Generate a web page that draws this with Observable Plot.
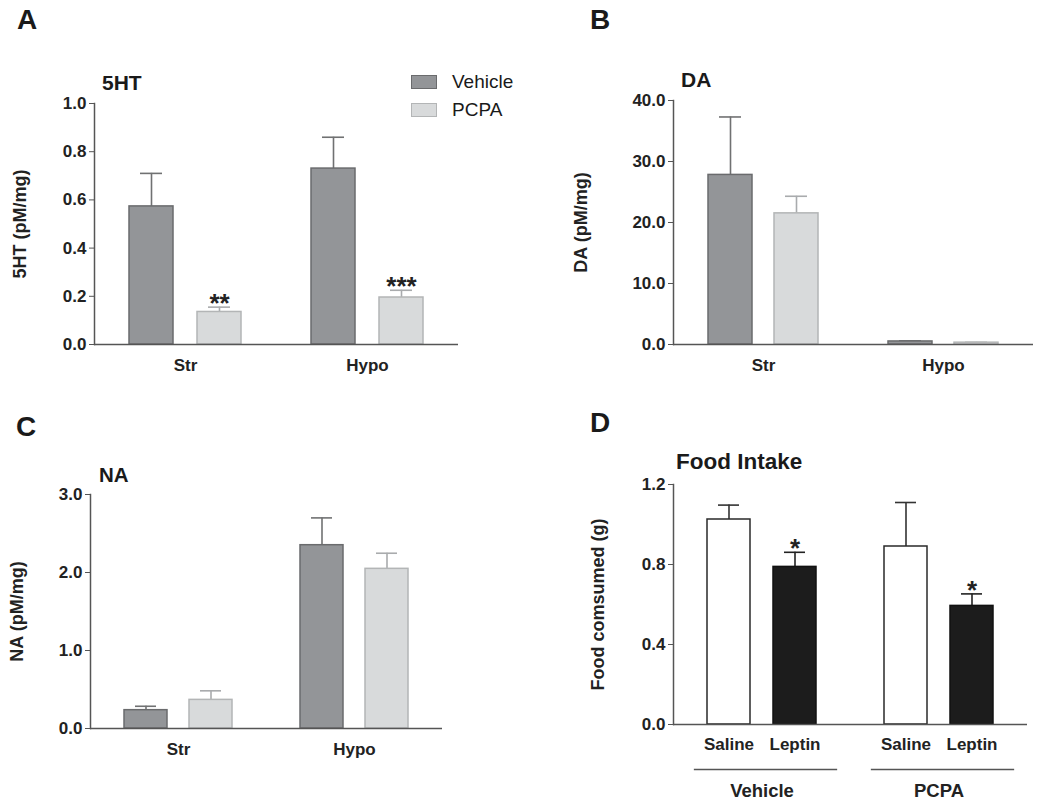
<!DOCTYPE html>
<html><head><meta charset="utf-8">
<script src="https://cdn.jsdelivr.net/npm/d3@7"></script>
<script src="https://cdn.jsdelivr.net/npm/@observablehq/plot@0.6"></script>
<style>
body{margin:0;background:#fff;}
#root{position:relative;width:1050px;height:806px;font-family:"Liberation Sans",Arial,sans-serif;overflow:hidden;background:#fff}
.abs{position:absolute;line-height:1;white-space:nowrap;color:#1a1a1a}
.letter{font-size:28px;font-weight:bold}
.title{font-weight:bold}
.panel{position:absolute}
.sw{position:absolute;box-sizing:border-box}
</style></head><body><div id="root"></div>
<script>
// ---- data ----
const regions = ["Str", "Hypo"];
const treatments = ["Vehicle", "PCPA"];

const ht5Vehicle = [0.573, 0.730];
const ht5VehicleSem = [0.137, 0.130];
const ht5PCPA = [0.135, 0.195];
const ht5PCPASem = [0.020, 0.030];
const ht5Stars = ["**", "***"];

const daVehicle = [27.8, 0.5];
const daVehicleSem = [9.5, 0.1];
const daPCPA = [21.5, 0.3];
const daPCPASem = [2.8, 0.05];

const naVehicle = [0.235, 2.35];
const naVehicleSem = [0.05, 0.35];
const naPCPA = [0.367, 2.047];
const naPCPASem = [0.116, 0.20];

const foodGroups = ["Vehicle", "PCPA"];
const foodTreatments = ["Saline", "Leptin"];
const foodSaline = [1.025, 0.890];
const foodSalineSem = [0.072, 0.220];
const foodLeptin = [0.788, 0.593];
const foodLeptinSem = [0.073, 0.060];
const foodStars = ["*", "*"];

const ticks5HT = [0, 0.2, 0.4, 0.6, 0.8, 1.0];
const ticksDA = [0, 10, 20, 30, 40];
const ticksNA = [0, 1, 2, 3];
const ticksFood = [0, 0.4, 0.8, 1.2];

// ---- styles ----
const greyStyles = [
  {fill: "#939598", stroke: "#6a6b6d", err: "#707172"},
  {fill: "#d8dadb", stroke: "#b3b5b6", err: "#a9abad"}
];
const foodStyles = [
  {fill: "#ffffff", stroke: "#2a2a2a", err: "#333333"},
  {fill: "#1c1c1c", stroke: "#111111", err: "#222222"}
];
const FONT = "'Liberation Sans', Arial, sans-serif";
const root = document.getElementById("root");

function addText(txt, cls, left, top, size, extra) {
  const d = document.createElement("div");
  d.className = "abs " + cls;
  d.textContent = txt;
  d.style.left = left + "px";
  d.style.top = top + "px";
  if (size) d.style.fontSize = size + "px";
  if (extra) Object.assign(d.style, extra);
  root.appendChild(d);
}

function panel(cfg) {
  const rows = cfg.groups.flatMap((g, i) => cfg.series.map((s, j) => ({
    g, s, j, mean: cfg.means[j][i], sem: cfg.sems[j][i],
    star: cfg.stars && cfg.stars[j] ? cfg.stars[j][i] : ""
  })));
  const marks = [];
  cfg.series.forEach((s, j) => {
    const st = cfg.styles[j];
    marks.push(Plot.ruleX(rows, {filter: d => d.j === j, fx: "g", x: "s", y1: "mean", y2: d => d.mean + d.sem, stroke: st.err, strokeWidth: 1.6}));
    marks.push(Plot.tickY(rows, {filter: d => d.j === j, fx: "g", x: "s", y: d => d.mean + d.sem, stroke: st.err, strokeWidth: 1.6, insetLeft: 11, insetRight: 11}));
    marks.push(Plot.barY(rows, {filter: d => d.j === j, fx: "g", x: "s", y: "mean", fill: st.fill, stroke: st.stroke, strokeWidth: 1.5}));
  });
  marks.push(Plot.text(rows, {filter: d => d.star, fx: "g", x: "s", y: d => d.mean + d.sem, text: "star",
    lineAnchor: "middle", dy: -3.5, fontSize: 26, fontWeight: "bold", fill: "#222"}));
  marks.push(Plot.ruleY([0], {stroke: "#555", strokeWidth: 1.5}));
  marks.push(Plot.frame({anchor: "left", facetAnchor: "left", stroke: "#555", strokeWidth: 1.5}));
  marks.push(Plot.axisY({ticks: cfg.yTicks, tickFormat: ".1f", tickSize: 5, tickPadding: 3, fontSize: 17,
    fontWeight: "bold", label: null, stroke: "#555", fill: "#222"}));
  marks.push(Plot.axisY({ticks: [], tickSize: 0, label: cfg.yLabel, labelAnchor: "center", labelArrow: "none",
    labelOffset: cfg.labelOffset, fontSize: 18, fontWeight: "bold", fill: "#222"}));
  marks.push(Plot.axisFx({anchor: "bottom", tickSize: 0, tickPadding: cfg.fxPad, fontSize: cfg.fxSize || 17,
    fontWeight: "bold", label: null, fill: "#222"}));
  if (cfg.innerAxis) {
    marks.push(Plot.axisX({anchor: "bottom", tickSize: 0, tickPadding: 13, fontSize: 17, fontWeight: "bold", label: null, fill: "#222"}));
    marks.push(Plot.frame({anchor: "bottom", dy: 45, insetLeft: 21, insetRight: 14, stroke: "#555", strokeWidth: 1.3}));
  }
  const chart = Plot.plot({
    width: cfg.width, height: cfg.height,
    marginLeft: cfg.m[0], marginRight: cfg.m[1], marginTop: cfg.m[2], marginBottom: cfg.m[3],
    style: {fontFamily: FONT, background: "transparent", overflow: "visible"},
    fx: {domain: cfg.groups, padding: 0, label: null},
    x: {domain: cfg.series, paddingInner: cfg.pin, paddingOuter: cfg.pout, axis: cfg.innerAxis ? undefined : null, label: null},
    y: {domain: cfg.yDomain, label: null},
    marks
  });
  const wrap = document.createElement("div");
  wrap.className = "panel";
  wrap.style.left = cfg.left + "px";
  wrap.style.top = cfg.top + "px";
  wrap.appendChild(chart);
  root.appendChild(wrap);
}

// Panel A
panel({left: 0, top: 0, width: 520, height: 390, m: [93, 62, 103, 46],
  groups: regions, series: treatments,
  means: [ht5Vehicle, ht5PCPA], sems: [ht5VehicleSem, ht5PCPASem], stars: [null, ht5Stars],
  styles: greyStyles, yDomain: [0, 1], yTicks: ticks5HT, yLabel: "5HT (pM/mg)", labelOffset: 81,
  pin: 0.348, pout: 0.493, fxPad: 14});
// Panel B
panel({left: 520, top: 0, width: 530, height: 390, m: [152, 17, 100, 46],
  groups: regions, series: treatments,
  means: [daVehicle, daPCPA], sems: [daVehicleSem, daPCPASem],
  styles: greyStyles, yDomain: [0, 40], yTicks: ticksDA, yLabel: "DA (pM/mg)", labelOffset: 99,
  pin: 0.328, pout: 0.511, fxPad: 14});
// Panel C
panel({left: 0, top: 400, width: 520, height: 406, m: [90, 78, 94, 78],
  groups: regions, series: treatments,
  means: [naVehicle, naPCPA], sems: [naVehicleSem, naPCPASem],
  styles: greyStyles, yDomain: [0, 3], yTicks: ticksNA, yLabel: "NA (pM/mg)", labelOffset: 80,
  pin: 0.333, pout: 0.5, fxPad: 14});
// Panel D
panel({left: 520, top: 400, width: 530, height: 406, m: [152, 23, 84, 82],
  groups: foodGroups, series: foodTreatments,
  means: [foodSaline, foodLeptin], sems: [foodSalineSem, foodLeptinSem], stars: [null, foodStars],
  styles: foodStyles, yDomain: [0, 1.2], yTicks: ticksFood, yLabel: "Food comsumed (g)", labelOffset: 82,
  pin: 0.343, pout: 0.496, fxPad: 59, fxSize: 18.5, innerAxis: true});

// Letters and titles
addText("A", "letter", 17, 6);
addText("B", "letter", 590, 6);
addText("C", "letter", 16, 413);
addText("D", "letter", 590, 409);
addText("5HT", "title", 102, 72, 21);
addText("DA", "title", 681, 69, 21);
addText("NA", "title", 99, 465, 20.5);
addText("Food Intake", "title", 676, 451, 22.5);

// Legend (panel A)
treatments.forEach((t, j) => {
  const st = greyStyles[j];
  const sw = document.createElement("div");
  sw.className = "sw";
  Object.assign(sw.style, {left: "411px", top: (75 + 28 * j) + "px", width: "26px", height: "14px",
    background: st.fill, border: "1.5px solid " + st.stroke});
  root.appendChild(sw);
  addText(t, "", 452, 72 + 28 * j, 19);
});
</script></body></html>
